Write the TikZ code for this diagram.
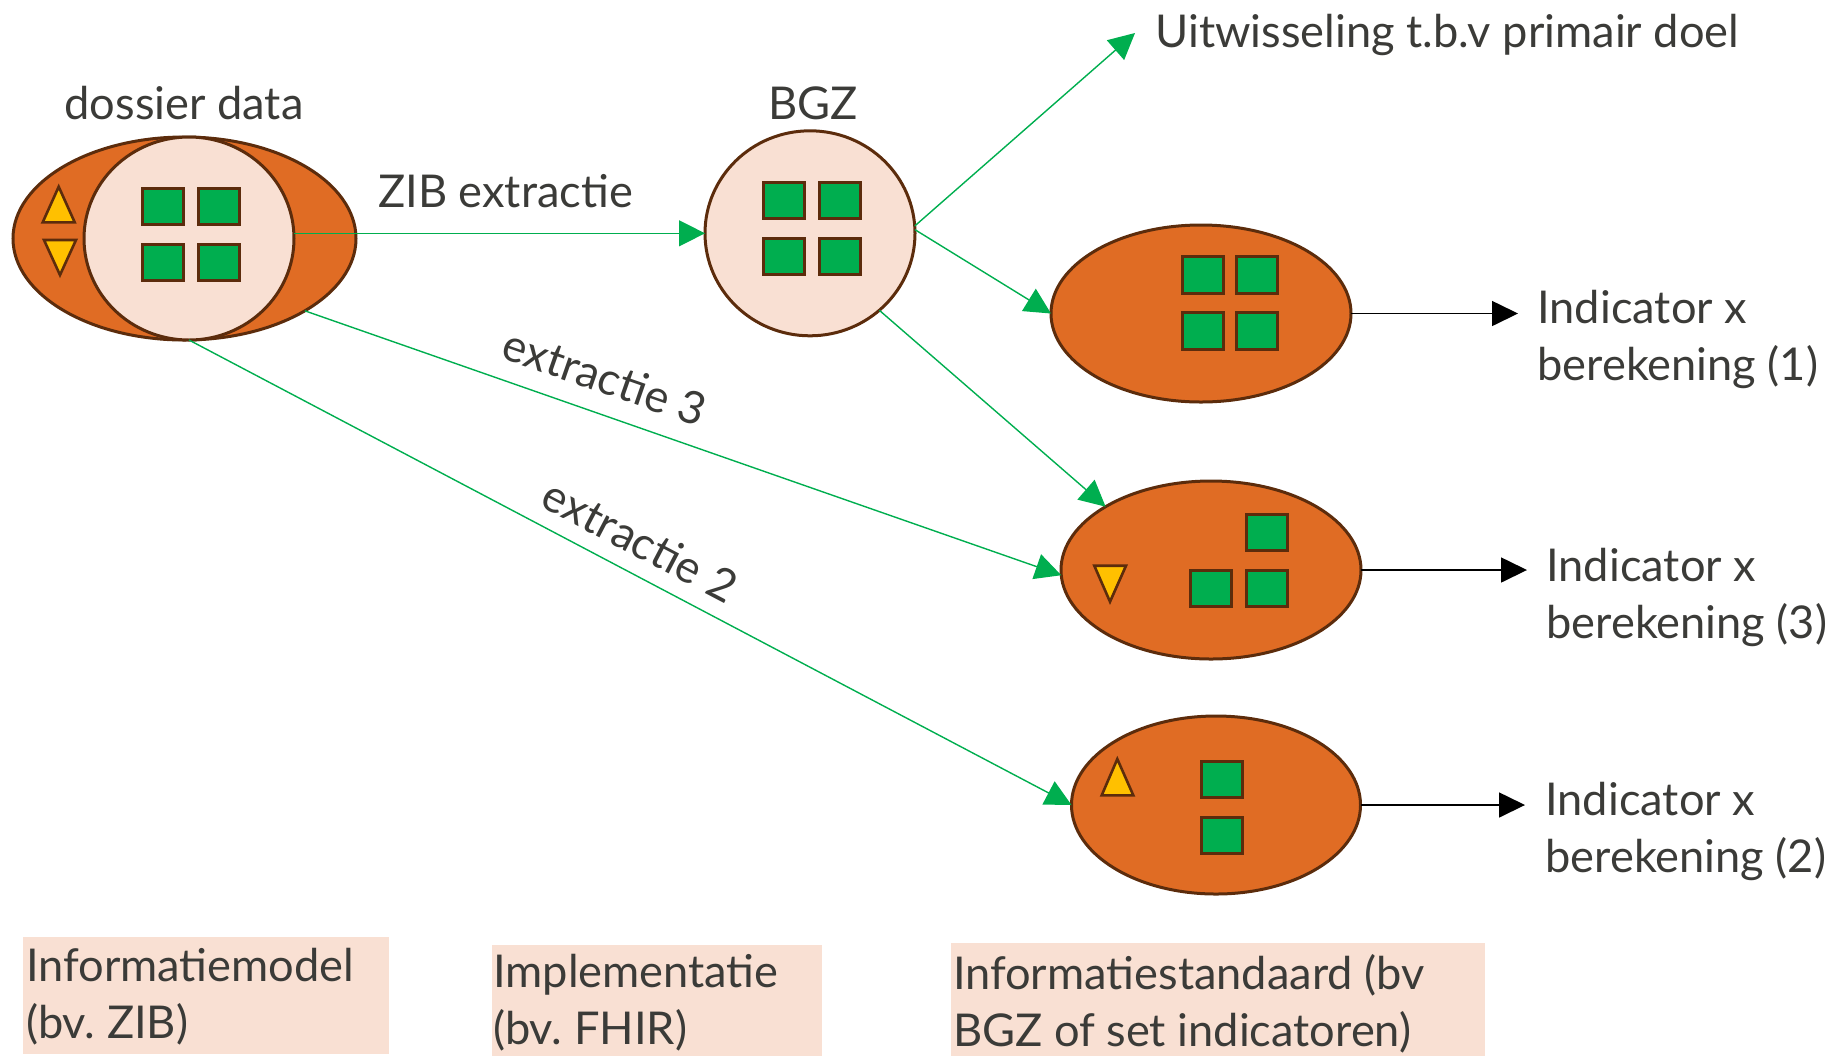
\documentclass[tikz,border=0pt]{standalone}
\usepackage{fontspec}
\setmainfont{Lato}
\frenchspacing
\usetikzlibrary{shapes.geometric,arrows.meta}
\definecolor{orng}{HTML}{E06C24}
\definecolor{brwn}{HTML}{5C2C0C}
\definecolor{peach}{HTML}{F9E0D3}
\definecolor{grn}{HTML}{00AE4F}
\definecolor{yel}{HTML}{FFC000}
\definecolor{txt}{HTML}{3B3B38}
\tikzset{
  blob/.style={ellipse, draw=brwn, fill=orng, line width=1.5pt, inner sep=0pt, outer sep=0pt},
  inner/.style={ellipse, draw=brwn, fill=peach, line width=1.5pt, inner sep=0pt, outer sep=0pt},
  sq/.style={draw=brwn, fill=grn, line width=1.5pt},
  tri/.style={draw=brwn, fill=yel, line width=1.3pt, line join=miter},
  lbl/.style={text=txt, font=\fontsize{22.6}{28.5}\selectfont, inner sep=0pt},
  garrow/.style={draw=grn, line width=0.7pt, -{Triangle[length=13pt,width=13pt]}},
  karrow/.style={draw=black, line width=0.8pt, -{Triangle[length=13pt,width=12.5pt]}},
  legend/.style={fill=peach, draw=none}
}
\begin{document}
\begin{tikzpicture}[x=0.5pt,y=-0.5pt]
\useasboundingbox (0,0) rectangle (1835,1056);
% dossier data
\node[blob, minimum width=171.5pt, minimum height=101.5pt] (dos) at (184.5,238.5) {};
\node[inner, minimum width=105pt, minimum height=101.5pt] (inn) at (189,238.5) {};
\foreach \x/\y in {142.7/188.3,198.3/188.3,142.7/244,198.3/244}
  \draw[sq] (\x,\y) rectangle ++(41,36);
\draw[tri] (58.7,186.7) -- (74.7,222.3) -- (42.7,222.3) -- cycle;
\draw[tri] (44,240) -- (76,240) -- (60,275) -- cycle;
\node[lbl] (dostxt) at (184,103) {dossier data};
% BGZ
\node[inner, minimum width=105pt, minimum height=102.5pt] (bgz) at (810,233.3) {};
\foreach \x/\y in {763.3/182.3,819.3/182.3,763.3/238.3,819.3/238.3}
  \draw[sq] (\x,\y) rectangle ++(41,36.5);
\node[lbl] (bgztxt) at (813,103) {BGZ};
% ellipse 1
\node[blob, minimum width=150pt, minimum height=88.5pt] (e1) at (1201,313.5) {};
\foreach \x/\y in {1182.7/256.7,1236/256.7,1182.7/312.7,1236/312.7}
  \draw[sq] (\x,\y) rectangle ++(41,36.5);
% ellipse 3
\node[blob, minimum width=150pt, minimum height=89pt] (e3) at (1211,570) {};
\foreach \x/\y in {1246/514,1190/570,1246/570}
  \draw[sq] (\x,\y) rectangle ++(41,36);
\draw[tri] (1094.3,565.7) -- (1126,565.7) -- (1110,601.7) -- cycle;
% ellipse 2
\node[blob, minimum width=144.5pt, minimum height=89pt] (e2) at (1216,805) {};
\foreach \x/\y in {1201.7/761,1201.7/817}
  \draw[sq] (\x,\y) rectangle ++(41,36.5);
\draw[tri] (1117.3,759) -- (1133.3,795.3) -- (1101.7,795.3) -- cycle;
% texts on right
\node[lbl, anchor=west] (uitw) at (1155,35) {Uitwisseling t.b.v primair doel};
\node[lbl, anchor=west, align=left] (ind1) at (1537,339) {Indicator x\\berekening (1)};
\node[lbl, anchor=west, align=left] (ind3) at (1546,597) {Indicator x\\berekening (3)};
\node[lbl, anchor=west, align=left] (ind2) at (1545,831) {Indicator x\\berekening (2)};
\coordinate (uend) at (1135,33);
\coordinate (k1) at (1518,313.5);
\coordinate (k3) at (1527,570);
\coordinate (k2) at (1525,805);
% green arrows
\draw[garrow] (inn.east |- bgz.west) -- (bgz.west);
\draw[garrow] (bgz.4) -- (uend);
\draw[garrow] (bgz.2) -- (e1.west);
\draw[garrow] (bgz.-48) -- (e3.149);
\draw[garrow] (dos.-31) -- (e3.182);
\draw[garrow] (inn.south) -- (e2.west);
% black arrows
\draw[karrow] (e1.east) -- (k1);
\draw[karrow] (e3.east) -- (k3);
\draw[karrow] (e2.east) -- (k2);
% arrow labels
\node[lbl] (zib) at (505.6,190.8) {ZIB extractie};
\node[lbl, rotate=-19.2] (ex3) at (605,377) {extractie 3};
\node[lbl, rotate=-27.7] (ex2) at (640,540.7) {extractie 2};
% legend boxes
\fill[legend] (23.4,937) rectangle (388.5,1054);
\fill[legend] (491.5,945) rectangle (821.5,1056);
\fill[legend] (951.4,943) rectangle (1485,1056);
\node[lbl, anchor=north west, align=left] (lg1) at (25.7,948) {Informatiemodel\\(bv. ZIB)};
\node[lbl, anchor=north west, align=left] (lg2) at (492.7,954) {Implementatie\\(bv. FHIR)};
\node[lbl, anchor=north west, align=left] (lg3) at (952.6,954) {Informatiestandaard (bv\\BGZ of set indicatoren)};
\end{tikzpicture}
\end{document}
